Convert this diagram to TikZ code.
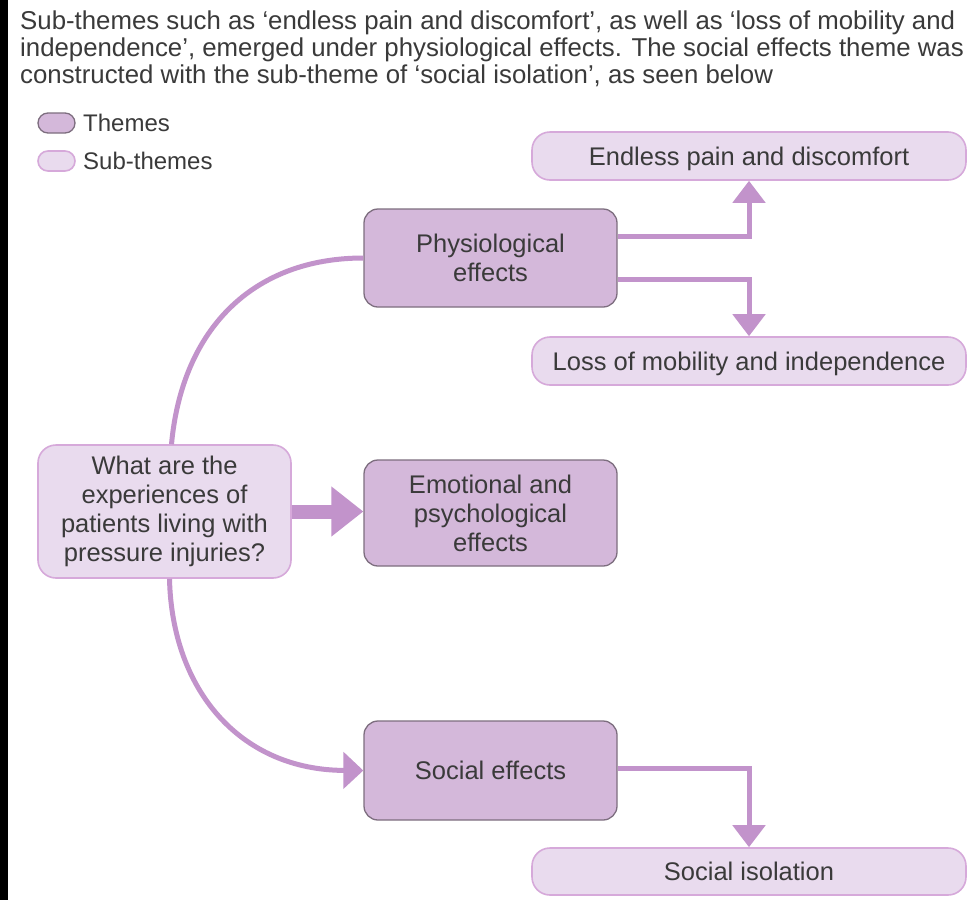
\documentclass[tikz,border=0pt]{standalone}
\usepackage{fontspec}
\setmainfont{Liberation Sans}
\usetikzlibrary{arrows.meta}

\definecolor{themefill}{HTML}{D4B8DA}
\definecolor{themeedge}{HTML}{7D6E7F}
\definecolor{subfill}{HTML}{E9DBEE}
\definecolor{subedge}{HTML}{D6A9DA}
\definecolor{linkc}{HTML}{C293CB}
\definecolor{ink}{HTML}{3A3A3A}

\begin{document}
\begin{tikzpicture}[x=1pt,y=-1pt,
  boxtext/.style={text=ink, align=center, inner sep=0pt,
    font=\fontsize{25.5}{29}\selectfont},
  theme/.style={boxtext, draw=themeedge, line width=1.3pt, fill=themefill,
    rounded corners=14pt, minimum width=253pt},
  subtheme/.style={boxtext, draw=subedge, line width=1.6pt, fill=subfill,
    rounded corners=18pt},
  paratext/.style={text=ink, anchor=base west, inner sep=0pt,
    font=\fontsize{25.8}{27}\selectfont},
  keytext/.style={text=ink, anchor=west, inner sep=0pt,
    font=\fontsize{24}{27}\selectfont},
  link/.style={draw=linkc, line width=5pt},
  tip/.style={-{Triangle[width=32pt,length=22pt]}},
  bigtip/.style={-{Triangle[width=48pt,length=32pt]}}
]
\useasboundingbox (0,0) rectangle (971,900);
\fill[white] (0,0) rectangle (971,900);
\fill[black] (0,0) rectangle (8,900);

% caption above the chart
\node[paratext] (p1) at (20,29) {Sub-themes such as ‘endless pain and discomfort’, as well as ‘loss of mobility and};
\node[paratext] (p2) at (20,56) {independence’, emerged under physiological effects. The social effects theme was};
\node[paratext] (p3) at (20,83) {constructed with the sub-theme of ‘social isolation’, as seen below};

% legend
\node[theme, minimum width=37pt, minimum height=20pt, rounded corners=10pt] (keytheme) at (56.5,123) {};
\node[subtheme, minimum width=37pt, minimum height=20pt, rounded corners=10pt] (keysub) at (56.5,161) {};
\node[keytext] (keythemetext) at (83,123) {Themes};
\node[keytext] (keysubtext) at (83,161) {Sub-themes};

% research question
\node[subtheme, minimum width=253pt, minimum height=133pt] (question) at (164.5,511.5)
  {What are the\\experiences of\\patients living with\\pressure injuries?};

% themes
\node[theme, minimum height=98pt] (phys) at (490.5,258) {Physiological\\effects};
\node[theme, minimum height=106pt] (emo) at (490.5,513) {Emotional and\\psychological\\effects};
\node[theme, minimum height=99pt] (social) at (490.5,770.5) {Social effects};

% sub-themes
\node[subtheme, minimum width=434pt, minimum height=48pt, text depth=0pt] (pain) at (749,156) {Endless pain and discomfort};
\node[subtheme, minimum width=434pt, minimum height=48pt, text depth=0pt] (mobility) at (749,361) {Loss of mobility and independence};
\node[subtheme, minimum width=434pt, minimum height=47pt] (isolation) at (749,871.5) {Social isolation};

% connectors
\draw[link] ([xshift=7pt]question.north) .. controls (182,330) and (252,258) .. (phys.west);
\draw[link, -{Triangle[width=36pt,length=20pt]}] ([xshift=5pt]question.south)
  .. controls (172,690) and (240,770) .. (social.west);
\draw[draw=linkc, line width=14pt, bigtip] (question.east) -- (question.east -| emo.west);

\draw[link, tip] ([yshift=22pt]phys.east) -| (pain.south);
\draw[link, tip] ([yshift=-21pt]phys.east) -| (mobility.north);
\draw[link, tip] ([yshift=2.5pt]social.east) -| (isolation.north);
\end{tikzpicture}
\end{document}
